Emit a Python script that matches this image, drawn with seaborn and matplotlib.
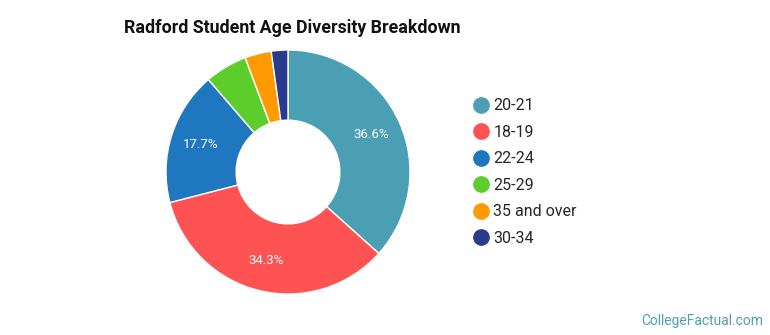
import matplotlib
matplotlib.use("Agg")
import matplotlib.pyplot as plt
from matplotlib.lines import Line2D
import numpy as np
import seaborn as sns

# data
age_groups = ["20-21", "18-19", "22-24", "25-29", "35 and over", "30-34"]
shares = [36.6, 34.3, 17.7, 5.6, 3.5, 2.2]
colors = ["#4a9fb4", "#ff5252", "#1f77c0", "#5ccd2a", "#ff9a02", "#2a3a8e"]

sns.set_theme(style="white")
plt.rcParams["font.family"] = ["Roboto", "DejaVu Sans"]

fig = plt.figure(figsize=(7.7, 3.35), dpi=100)
fig.patch.set_facecolor("white")

# donut: center (288,172) px, radius 122 px
W, H = 770, 335
cx, cy, r = 288, 172, 122
ax = fig.add_axes([(cx - r) / W, (H - cy - r) / H, 2 * r / W, 2 * r / H])

palette = sns.color_palette(colors)
wedges, _ = ax.pie(
    shares, colors=palette, startangle=90, counterclock=False,
    wedgeprops=dict(width=0.575, edgecolor="white", linewidth=1),
)

# percentage labels inside the larger slices
for val, w in zip(shares, wedges):
    mid = np.deg2rad((w.theta1 + w.theta2) / 2)
    if val > 10:
        rr = 0.75
        ax.text(rr * np.cos(mid), rr * np.sin(mid), f"{val:.1f}%",
                ha="center", va="center", color="white", fontsize=9.5)
ax.set_xlim(-1, 1)
ax.set_ylim(-1, 1)
ax.set_aspect("equal")
ax.axis("off")

fig.text(124 / W, 1 - 28 / H, "Radford Student Age Diversity Breakdown",
         ha="left", va="center", fontsize=12.8, fontweight="bold", color="#111111")

handles = [Line2D([0], [0], marker="o", linestyle="", markersize=11,
                  markerfacecolor=c, markeredgecolor=c) for c in palette]
fig.legend(handles, age_groups, loc="upper left",
           bbox_to_anchor=(463 / W, 1 - 92 / H), frameon=False,
           fontsize=11.5, handletextpad=0.0, labelspacing=0.72,
           handlelength=1.5, borderaxespad=0)

fig.text(763 / W, 1 - 321 / H, "CollegeFactual.com", ha="right", va="center",
         fontsize=10, color="#4f9fb8")

fig.savefig("out.png", dpi=100, facecolor="white")
